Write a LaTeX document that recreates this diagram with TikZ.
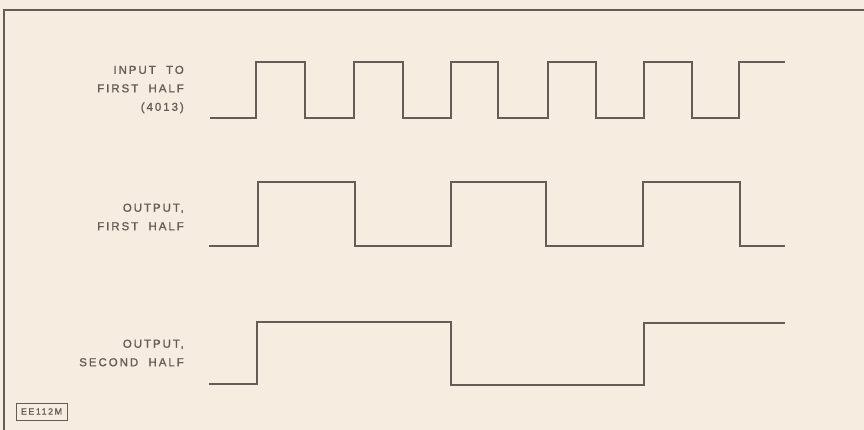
\documentclass[tikz,border=0pt]{standalone}
\usepackage{fontspec}
\newfontfamily\lblfont[LetterSpace=17,FakeBold=1.2]{Liberation Sans}
\newfontfamily\tagfont[LetterSpace=16,FakeBold=1]{Liberation Sans}
\definecolor{paper}{HTML}{F6EDE0}
\definecolor{ink}{HTML}{655C55}
\begin{document}
\begin{tikzpicture}[x=1pt,y=-1pt,
  wave/.style={draw=ink, line width=1.1pt, line join=miter},
  lbl/.style={text=ink, font=\lblfont\fontsize{11.5}{18.5}\selectfont, align=right, anchor=east, inner sep=0pt},
  tagbox/.style={draw=ink, line width=0.9pt, text=ink, font=\tagfont\fontsize{9}{9}\selectfont, minimum width=51pt, minimum height=17pt, inner sep=0pt}]
\fill[paper] (0,0) rectangle (864,430);
\useasboundingbox (0,0) rectangle (864,430);
\draw[ink, line width=1.3pt] (4,430) -- (4,10) -- (864,10);
% labels
\node[lbl] (l1) at (184,89.5) {INPUT\ \ TO\\FIRST\ \ HALF\\(4013)};
\node[lbl] (l2) at (184,217) {OUTPUT,\\FIRST\ \ HALF};
\node[lbl] (l3) at (184,353) {OUTPUT,\\SECOND\ \ HALF};
\node[tagbox] (tag) at (41.5,411.5) {EE\,112M};
% waveforms
\draw[wave] (210,118) -- (256,118) -- (256,62) -- (305,62) -- (305,118) -- (354,118) -- (354,62) -- (403,62) -- (403,118) -- (451,118) -- (451,62) -- (498,62) -- (498,118) -- (548,118) -- (548,62) -- (596,62) -- (596,118) -- (644,118) -- (644,62) -- (692,62) -- (692,118) -- (739,118) -- (739,62) -- (785,62);
\draw[wave] (209,246) -- (258,246) -- (258,182) -- (355,182) -- (355,246) -- (451,246) -- (451,182) -- (546,182) -- (546,246) -- (643,246) -- (643,182) -- (740,182) -- (740,246) -- (785,246);
\draw[wave] (209,384) -- (257,384) -- (257,322) -- (451,322) -- (451,385) -- (644,385) -- (644,323) -- (785,323);
\end{tikzpicture}
\end{document}
